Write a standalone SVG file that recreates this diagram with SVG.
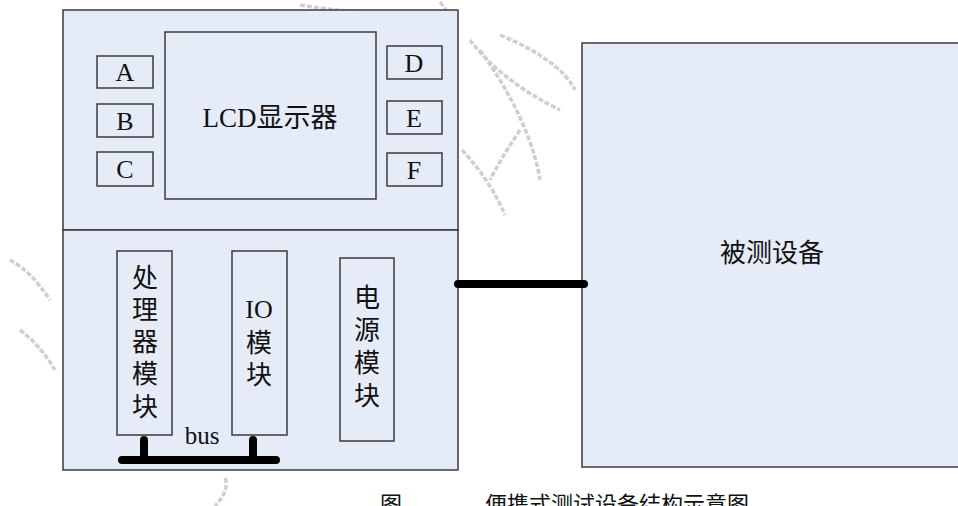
<svg xmlns="http://www.w3.org/2000/svg" width="958" height="506" viewBox="0 0 958 506">
<style>
.box{fill:#E6ECF7;stroke:#3a3a3a;stroke-width:1.5}
.t{font-family:"Liberation Serif","Noto Sans CJK SC",serif;fill:#111;text-anchor:middle}
.cap{font-family:"Liberation Serif","Noto Sans CJK SC",serif;fill:#111;text-anchor:start}
.wm{fill:none;stroke:#cfcfcf;stroke-width:3.5;stroke-dasharray:5 2}
.bus{fill:none;stroke:#000;stroke-width:8;stroke-linecap:round}
</style>
<rect width="958" height="506" fill="#fff"/>
<g id="watermark">
<path class="wm" d="M470 40 Q500 80 560 110"/>
<path class="wm" d="M480 50 Q530 120 540 180"/>
<path class="wm" d="M500 35 Q560 60 575 90"/>
<path class="wm" d="M520 130 Q500 160 490 180"/>
<path class="wm" d="M462 150 Q490 180 505 215"/>
<path class="wm" d="M300 5 Q360 15 420 12"/>
<path class="wm" d="M440 2 Q455 20 458 40"/>
<path class="wm" d="M10 260 Q30 270 50 300"/>
<path class="wm" d="M20 330 Q40 345 55 370"/>
<path class="wm" d="M225 478 Q230 490 215 506"/>
</g>
<g id="upper-panel"><rect class="box" x="63" y="10" width="395" height="220"/></g>
<g id="lower-panel"><rect class="box" x="63" y="230" width="395" height="240"/></g>
<g id="lcd"><rect class="box" x="165" y="32" width="211" height="167"/><text class="t" x="270" y="127" font-size="27">LCD显示器</text></g>
<g id="btn-a"><rect class="box" x="97" y="56" width="56" height="32"/><text class="t" x="125" y="81" font-size="26">A</text></g>
<g id="btn-b"><rect class="box" x="97" y="104" width="56" height="33"/><text class="t" x="125" y="130" font-size="26">B</text></g>
<g id="btn-c"><rect class="box" x="97" y="152" width="56" height="34"/><text class="t" x="125" y="178" font-size="26">C</text></g>
<g id="btn-d"><rect class="box" x="387" y="46" width="55" height="33"/><text class="t" x="414" y="72" font-size="26">D</text></g>
<g id="btn-e"><rect class="box" x="387" y="101" width="55" height="33"/><text class="t" x="414" y="127" font-size="26">E</text></g>
<g id="btn-f"><rect class="box" x="387" y="153" width="55" height="33"/><text class="t" x="414" y="179" font-size="26">F</text></g>
<g id="cpu"><rect class="box" x="117" y="251" width="55" height="184"/>
<text class="t" font-size="26"><tspan x="145" y="287">处</tspan><tspan x="145" y="319">理</tspan><tspan x="145" y="351">器</tspan><tspan x="145" y="383">模</tspan><tspan x="145" y="416">块</tspan></text></g>
<g id="io"><rect class="box" x="232" y="251" width="55" height="184"/>
<text class="t" font-size="26"><tspan x="259" y="318">IO</tspan><tspan x="259" y="352">模</tspan><tspan x="259" y="384">块</tspan></text></g>
<g id="power"><rect class="box" x="340" y="258" width="54" height="183"/>
<text class="t" font-size="26"><tspan x="367" y="307">电</tspan><tspan x="367" y="339">源</tspan><tspan x="367" y="372">模</tspan><tspan x="367" y="405">块</tspan></text></g>
<g id="dut"><rect class="box" x="582" y="43" width="390" height="424"/><text class="t" x="772" y="262" font-size="26">被测设备</text></g>
<g id="connectors">
<path class="bus" d="M122 460 H276 M144 460 V440 M253 460 V440"/>
<path class="bus" d="M458 284 H584"/>
<text class="t" x="202" y="444" font-size="25">bus</text>
</g>
<g id="caption"><text class="cap" font-size="22"><tspan x="380" y="512">图</tspan><tspan x="485" y="512">便携式测试设备结构示意图</tspan></text></g>
</svg>
